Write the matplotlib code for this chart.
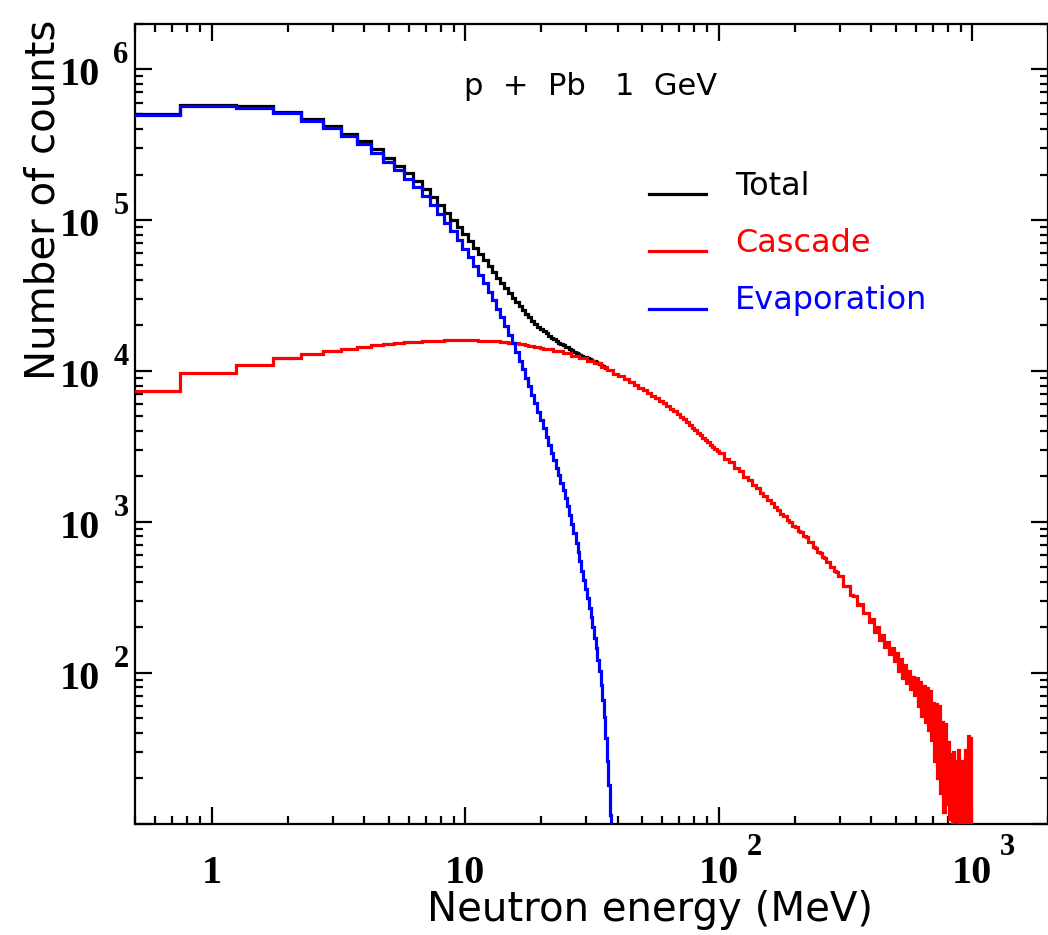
import numpy as np
import matplotlib
matplotlib.use('Agg')
import matplotlib.pyplot as plt
from matplotlib.ticker import LogLocator, NullFormatter
from matplotlib.lines import Line2D
from matplotlib.legend_handler import HandlerLine2D

# histogram bin edges in MeV (0.5 MeV bins at low energy, coarser read-off bins above)
total_edges = np.arange(0.25, 36.3, 0.5)
evap_edges = np.arange(0.25, 38.8, 0.5)
casc_edges = np.concatenate([np.arange(0.25, 20.25, 0.5),
                             np.arange(20.25, 100.25, 2.0),
                             np.arange(100.25, 300.25, 5.0),
                             np.arange(300.25, 1000.3, 10.0)])

# counts
total_counts = [5.02e5, 5.81e5, 5.66e5, 5.20e5, 4.67e5, 4.20e5, 3.74e5, 3.33e5, 2.94e5, 2.58e5,
                2.29e5, 2.04e5, 1.81e5, 1.60e5, 1.42e5, 1.26e5, 1.12e5, 1.00e5, 8.96e4, 8.05e4,
                7.26e4, 6.55e4, 5.94e4, 5.41e4, 4.93e4, 4.52e4, 4.15e4, 3.82e4, 3.53e4, 3.28e4,
                3.05e4, 2.85e4, 2.68e4, 2.53e4, 2.38e4, 2.26e4, 2.155e4, 2.06e4, 1.965e4, 1.89e4,
                1.83e4, 1.77e4, 1.71e4, 1.66e4, 1.62e4, 1.58e4, 1.54e4, 1.51e4, 1.48e4, 1.45e4,
                1.43e4, 1.40e4, 1.37e4, 1.34e4, 1.32e4, 1.30e4, 1.28e4, 1.26e4, 1.24e4, 1.23e4,
                1.21e4, 1.20e4, 1.18e4, 1.17e4, 1.16e4, 1.14e4, 1.12e4, 1.11e4, 1.10e4, 1.08e4,
                1.065e4, 1.05e4]

evap_counts = [4.95e5, 5.71e5, 5.55e5, 5.08e5, 4.54e5, 4.06e5, 3.60e5, 3.18e5, 2.79e5, 2.43e5,
               2.14e5, 1.88e5, 1.65e5, 1.44e5, 1.26e5, 1.10e5, 9.6e4, 8.4e4, 7.35e4, 6.45e4,
               5.65e4, 4.95e4, 4.35e4, 3.82e4, 3.35e4, 2.94e4, 2.58e4, 2.26e4, 1.98e4, 1.74e4,
               1.52e4, 1.33e4, 1.17e4, 1.03e4, 9.0e3, 7.9e3, 6.95e3, 6.1e3, 5.35e3, 4.7e3,
               4.17e3, 3.67e3, 3.24e3, 2.87e3, 2.55e3, 2.28e3, 2.03e3, 1.82e3, 1.62e3, 1.44e3,
               1.27e3, 1.11e3, 968, 841, 728, 631, 547, 475, 413, 359,
               312, 270, 233, 200, 171, 146, 122, 102, 83, 66,
               51, 37, 26, 18, 11.5, 7, 3]

casc_counts = [7.35e3, 9.7e3, 1.09e4, 1.21e4, 1.29e4, 1.35e4, 1.40e4, 1.45e4, 1.49e4, 1.51e4,
               1.53e4, 1.55e4, 1.56e4, 1.57e4, 1.58e4, 1.59e4, 1.60e4, 1.60e4, 1.61e4, 1.60e4,
               1.61e4, 1.60e4, 1.59e4, 1.59e4, 1.58e4, 1.58e4, 1.57e4, 1.56e4, 1.55e4, 1.54e4,
               1.53e4, 1.52e4, 1.51e4, 1.50e4, 1.48e4, 1.47e4, 1.46e4, 1.45e4, 1.43e4, 1.42e4,
               # 2 MeV bins, 20-100 MeV
               1.39e4, 1.35e4, 1.31e4, 1.26e4, 1.21e4, 1.165e4, 1.12e4, 1.065e4, 1.01e4, 9.6e3,
               9.2e3, 8.8e3, 8.4e3, 8.05e3, 7.7e3, 7.45e3, 7.1e3, 6.85e3, 6.6e3, 6.3e3,
               6.1e3, 5.85e3, 5.6e3, 5.4e3, 5.15e3, 4.98e3, 4.78e3, 4.57e3, 4.39e3, 4.2e3,
               4.04e3, 3.86e3, 3.74e3, 3.6e3, 3.48e3, 3.36e3, 3.24e3, 3.13e3, 3.04e3, 2.93e3,
               # 5 MeV bins, 100-300 MeV
               2840, 2620, 2480, 2290, 2160, 1990, 1880, 1745, 1670, 1545,
               1485, 1385, 1335, 1245, 1205, 1125, 1095, 1030, 1005, 945,
               920, 865, 855, 800, 790, 740, 730, 685, 675, 630,
               625, 585, 580, 545, 540, 505, 500, 470, 465, 435,
               # 10 MeV bins, 300-1000 MeV
               441, 373, 376, 326, 325, 282, 286, 247, 249, 216,
               228, 186, 201, 165, 179, 148, 161, 133, 145, 119,
               136, 103, 123, 93, 112, 85, 103, 78, 94, 71,
               92, 60, 87, 52, 82, 47, 79, 42, 76, 36,
               63, 26, 62, 20, 60, 16, 47, 12, 46, 13.5,
               35, 10.7, 29, 8, 30, 10.5, 26, 8, 31, 9.5,
               26, 6.5, 23, 8, 31, 7, 38, 7.5, 37, 5]

series_names = ['Total', 'Cascade', 'Evaporation']
series_colors = ['black', 'red', 'blue']

xtick_vals = [1, 10, 100, 1000]
xtick_base = ['1', '10', '10', '10']
xtick_exp = ['', '', '2', '3']
ytick_vals = [1e2, 1e3, 1e4, 1e5, 1e6]
ytick_exp = ['2', '3', '4', '5', '6']


class BaselineLine(HandlerLine2D):
    # legend sample drawn at the text baseline, as in the original
    def create_artists(self, legend, orig_handle, xdescent, ydescent, width, height,
                       fontsize, trans):
        arts = super().create_artists(legend, orig_handle, xdescent, ydescent, width,
                                      height, fontsize, trans)
        for a in arts:
            a.set_ydata(np.asarray(a.get_ydata()) - 0.33 * fontsize)
        return arts


fig = plt.figure(figsize=(10.48, 9.35), dpi=100)
ax = fig.add_axes([135.4 / 1048, (935 - 823.7) / 935, 913 / 1048, 800.1 / 935])

lw = 2.3
ax.stairs(total_counts, total_edges, baseline=None, color=series_colors[0], lw=lw, zorder=2)
ax.stairs(casc_counts, casc_edges, baseline=None, color=series_colors[1], lw=lw, zorder=3)
ax.stairs(evap_counts, evap_edges, baseline=None, color=series_colors[2], lw=lw, zorder=4)

ax.set_xscale('log')
ax.set_yscale('log')
ax.set_xlim(0.5, 2000)
ax.set_ylim(10, 2e6)

for sp in ax.spines.values():
    sp.set_linewidth(1.6)

ax.xaxis.set_major_locator(LogLocator(base=10, numticks=20))
ax.xaxis.set_minor_locator(LogLocator(base=10, subs=np.arange(2, 10), numticks=20))
ax.yaxis.set_major_locator(LogLocator(base=10, numticks=20))
ax.yaxis.set_minor_locator(LogLocator(base=10, subs=np.arange(2, 10), numticks=20))
ax.xaxis.set_minor_formatter(NullFormatter())
ax.yaxis.set_minor_formatter(NullFormatter())
ax.tick_params(which='both', direction='in', top=True, right=True,
               labelbottom=False, labelleft=False, width=1.6)
ax.tick_params(which='major', length=12)
ax.tick_params(which='minor', length=6)

# tick labels: bold "10" with a raised exponent
tfont = dict(family='Liberation Serif', fontweight='bold')
for v, b, e in zip(xtick_vals, xtick_base, xtick_exp):
    ax.annotate(b, xy=(v, 0), xycoords=('data', 'axes fraction'), xytext=(0, -42.7),
                textcoords='offset points', ha='center', va='baseline', fontsize=29,
                annotation_clip=False, **tfont)
    if e:
        ax.annotate(e, xy=(v, 0), xycoords=('data', 'axes fraction'), xytext=(20, -22.5),
                    textcoords='offset points', ha='left', va='baseline', fontsize=22,
                    annotation_clip=False, **tfont)
for v, e in zip(ytick_vals, ytick_exp):
    ax.annotate('10', xy=(0, v), xycoords=('axes fraction', 'data'), xytext=(-25.5, -11.5),
                textcoords='offset points', ha='right', va='baseline', fontsize=29,
                annotation_clip=False, **tfont)
    ax.annotate(e, xy=(0, v), xycoords=('axes fraction', 'data'), xytext=(-5.0, 4.3),
                textcoords='offset points', ha='right', va='baseline', fontsize=22,
                annotation_clip=False, **tfont)

ax.set_xlabel('Neutron energy (MeV)', fontsize=29, family='DejaVu Sans')
ax.xaxis.set_label_coords(0.5636, -0.083)
ax.set_ylabel('Number of counts', fontsize=29, family='DejaVu Sans')
ax.yaxis.set_label_coords(-0.079, 0.78)

ax.text(0.498, 0.911, 'p  +  Pb   1  GeV', transform=ax.transAxes, ha='center',
        va='baseline', fontsize=22, family='DejaVu Sans')

handles = [Line2D([], [], color=c, lw=lw) for c in series_colors]
leg = ax.legend(handles, series_names, loc='upper left', bbox_to_anchor=(0.5625, 0.816),
                frameon=False, fontsize=23, handlelength=1.8, handletextpad=0.9,
                labelspacing=0.82, borderpad=0, borderaxespad=0,
                handler_map={Line2D: BaselineLine()})
for txt, c in zip(leg.get_texts(), series_colors):
    txt.set_color(c)

fig.savefig('out.png', dpi=100)
